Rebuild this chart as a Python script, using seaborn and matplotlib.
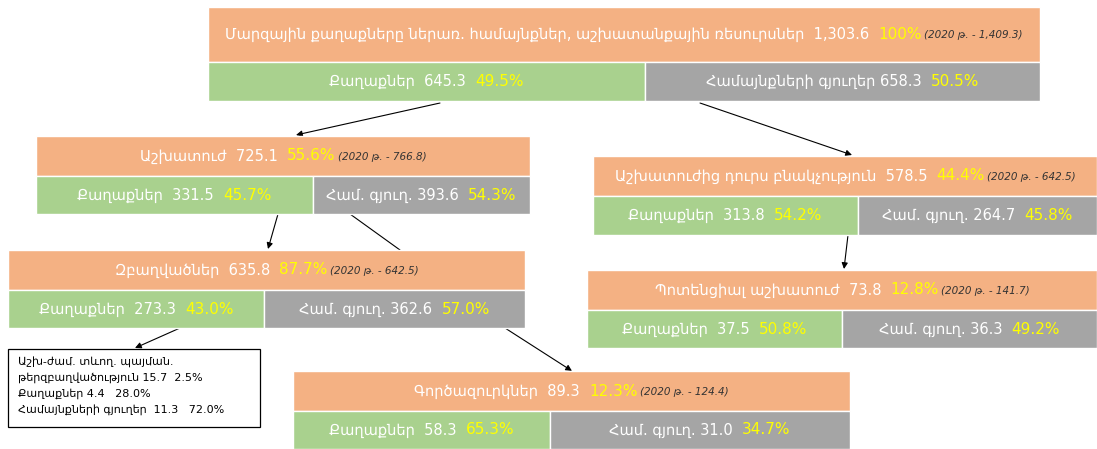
import matplotlib
matplotlib.use("Agg")
import matplotlib.pyplot as plt
import seaborn as sns
from matplotlib.patches import Rectangle, FancyArrowPatch

sns.set_theme(style="white")
plt.rcParams['font.family'] = ['DejaVu Sans']

# ---------------- data ----------------
node_titles = [
    "Մարզային քաղաքները ներառ. համայնքներ, աշխատանքային ռեսուրսներ",
    "Աշխատուժ",
    "Աշխատուժից դուրս բնակչություն",
    "Զբաղվածներ",
    "Պոտենցիալ աշխատուժ",
    "Գործազուրկներ",
]
node_values = ["1,303.6", "725.1", "578.5", "635.8", "73.8", "89.3"]
node_shares = ["100%", "55.6%", "44.4%", "87.7%", "12.8%", "12.3%"]
node_2020 = ["1,409.3", "766.8", "642.5", "642.5", "141.7", "124.4"]
city_label = "Քաղաքներ"
village_labels = ["Համայնքների գյուղեր", "Համ. գյուղ.", "Համ. գյուղ.",
                  "Համ. գյուղ.", "Համ. գյուղ.", "Համ. գյուղ."]
city_values = ["645.3", "331.5", "313.8", "273.3", "37.5", "58.3"]
city_shares = ["49.5%", "45.7%", "54.2%", "43.0%", "50.8%", "65.3%"]
village_values = ["658.3", "393.6", "264.7", "362.6", "36.3", "31.0"]
village_shares = ["50.5%", "54.3%", "45.8%", "57.0%", "49.2%", "34.7%"]
note_lines = [
    "Աշխ-ժամ. տևող. պայման.",
    "թերզբաղվածություն 15.7  2.5%",
    "Քաղաքներ 4.4   28.0%",
    "Համայնքների գյուղեր  11.3   72.0%",
]

# ---------------- layout (pixels) ----------------
# (x0, x_split, x1, y_top, y_mid, y_bottom)
boxes = [
    (208, 645, 1040, 7, 62, 101),
    (36, 313, 530, 136, 176, 214),
    (593, 858, 1097, 156, 196, 235),
    (8, 264, 525, 250, 290, 328),
    (587, 842, 1097, 270, 310, 348),
    (293, 550, 850, 371, 411, 449),
]
ORANGE = "#F4B183"
GREEN = "#A9D18E"
GRAY = "#A5A5A5"
YELLOW = "#FFFF00"
WHITE = "#FFFFFF"

W, H = 1097, 449
fig = plt.figure(figsize=(W / 100, H / 100), dpi=100)
ax = fig.add_axes([0, 0, 1, 1])
ax.set_xlim(0, W)
ax.set_ylim(H, 0)
ax.axis("off")
renderer = fig.canvas.get_renderer()


def rich(xc, yc, segs):
    """segs: list of (text, color, size, style, gap_after)"""
    objs = []
    widths = []
    for t, c, s, st, gap in segs:
        o = ax.text(0, yc, t, color=c, fontsize=s, fontstyle=st,
                    ha="left", va="center", zorder=5)
        bb = o.get_window_extent(renderer=renderer)
        objs.append(o)
        widths.append(bb.width + gap)
    total = sum(widths)
    x = xc - total / 2
    for o, w in zip(objs, widths):
        o.set_x(x)
        x += w


FS = 10.5
for i, (x0, xs, x1, yt, ym, yb) in enumerate(boxes):
    ax.add_patch(Rectangle((x0, yt), x1 - x0, ym - yt, facecolor=ORANGE,
                           edgecolor="white", lw=1, zorder=2))
    ax.add_patch(Rectangle((x0, ym), xs - x0, yb - ym, facecolor=GREEN,
                           edgecolor="white", lw=1, zorder=2))
    ax.add_patch(Rectangle((xs, ym), x1 - xs, yb - ym, facecolor=GRAY,
                           edgecolor="white", lw=1, zorder=2))
    rich((x0 + x1) / 2, (yt + ym) / 2, [
        (node_titles[i] + "  " + node_values[i] + "  ", WHITE, FS, "normal", 0),
        (node_shares[i], YELLOW, FS + 0.5, "normal", 2),
        ("(2020 թ. - " + node_2020[i] + ")", "#333333", 7.5, "italic", 0),
    ])
    rich((x0 + xs) / 2, (ym + yb) / 2, [
        (city_label + "  " + city_values[i] + "  ", WHITE, FS, "normal", 0),
        (city_shares[i], YELLOW, FS + 0.5, "normal", 0),
    ])
    rich((xs + x1) / 2, (ym + yb) / 2, [
        (village_labels[i] + " " + village_values[i] + "  ", WHITE, FS, "normal", 0),
        (village_shares[i], YELLOW, FS + 0.5, "normal", 0),
    ])

# note box
ax.add_patch(Rectangle((8, 349), 252, 78, facecolor="white",
                       edgecolor="black", lw=0.9, zorder=2))
for k, line in enumerate(note_lines):
    ax.text(18, 362 + k * 16, line, fontsize=8, color="black",
            ha="left", va="center", zorder=5)

# arrows
def arrow(p0, p1, head=True):
    style = "-|>" if head else "-"
    ax.add_patch(FancyArrowPatch(p0, p1, arrowstyle=style, mutation_scale=9,
                                 color="black", lw=0.8, zorder=1,
                                 shrinkA=0, shrinkB=0))

arrow((440, 103), (296, 135))
arrow((700, 103), (852, 155))
arrow((278, 214), (268, 249))
arrow((350, 214), (400, 250), head=False)
arrow((505, 328), (572, 371))
arrow((848, 235), (844, 269))
arrow((180, 328), (135, 348))
arrow((620, 60), (620, 63), head=False)

fig.savefig("out.png", dpi=100)
